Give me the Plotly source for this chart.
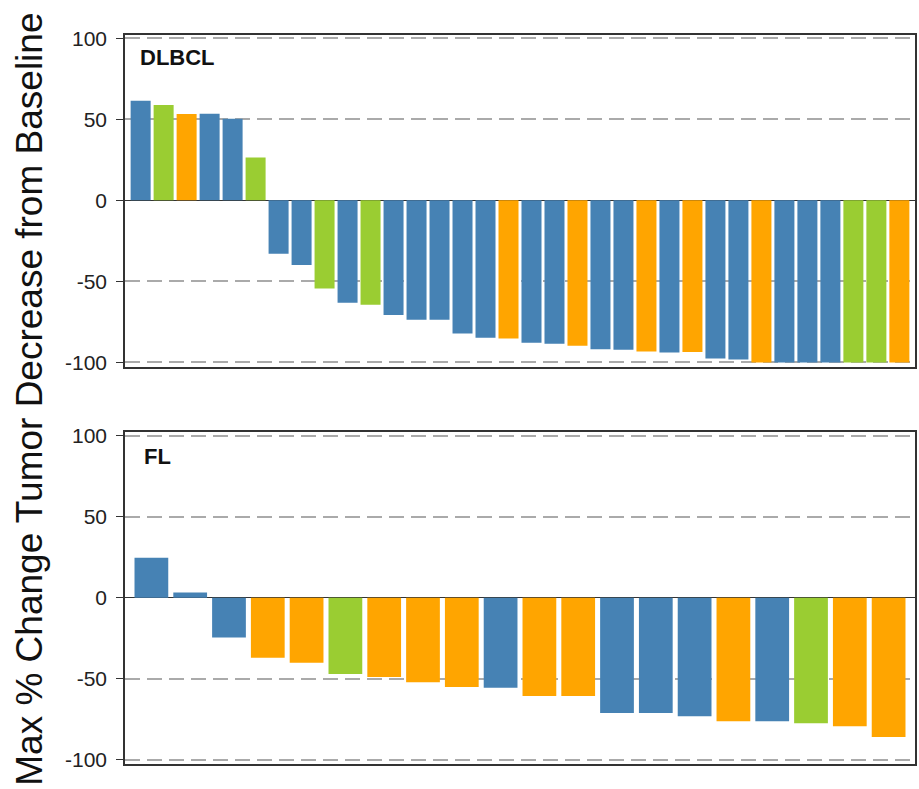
import plotly.graph_objects as go
from plotly.subplots import make_subplots

# ---- data ----
dlbcl_values = [61.5, 58.8, 53.3, 53.4, 50.4, 26.5,
                -32.9, -39.9, -54.3, -63.2, -64.4, -70.8, -73.7, -73.7, -82.1, -84.8,
                -85.2, -87.9, -88.5, -89.7, -91.8, -92.2, -93.2, -93.8, -93.6,
                -97.5, -98.1, -100, -100, -100, -100, -100, -100, -100]
dlbcl_groups = ["B", "G", "O", "B", "B", "G",
                "B", "B", "G", "B", "G", "B", "B", "B", "B", "B",
                "O", "B", "B", "O", "B", "B", "O", "B", "O",
                "B", "B", "O", "B", "B", "B", "G", "G", "O"]

fl_values = [24.8, 3.3, -24.4, -36.9, -40.0, -47.0, -48.8, -52.1, -55.0, -55.4,
             -60.5, -60.5, -71.0, -71.0, -73.0, -76.1, -76.1, -77.4, -79.2, -85.8]
fl_groups = ["B", "B", "B", "O", "O", "G", "O", "O", "O", "B",
             "O", "O", "B", "B", "B", "O", "B", "G", "O", "O"]

panel_labels = ["DLBCL", "FL"]
y_ticks = [-100, -50, 0, 50, 100]
y_tick_labels = ["-100", "-50", "0", "50", "100"]
y_title = "Max % Change Tumor Decrease from Baseline"

color_map = {"B": "#4682B4", "G": "#9ACD32", "O": "#FFA500"}

fig = make_subplots(rows=2, cols=1, vertical_spacing=0.0905)

for row, (vals, grps) in enumerate([(dlbcl_values, dlbcl_groups), (fl_values, fl_groups)], start=1):
    xs = list(range(len(vals)))
    fig.add_trace(go.Bar(
        x=xs, y=vals,
        marker=dict(color=[color_map[g] for g in grps], line=dict(width=0)),
        showlegend=False,
    ), row=row, col=1)
    fig.update_xaxes(range=[-0.68, len(vals) - 1 + 0.68], showticklabels=False, ticks="",
                     showgrid=False, zeroline=False, showline=True, mirror=True,
                     linecolor="#333333", linewidth=1.5, row=row, col=1)
    fig.update_yaxes(range=[-102.5, 102], tickvals=y_ticks, ticktext=y_tick_labels,
                     ticks="outside", ticklen=7,
                     tickcolor="#333333", tickwidth=1, ticklabelstandoff=5,
                     tickfont=dict(family="Liberation Sans, Arial", size=21, color="#222222"),
                     showgrid=True, gridcolor="#aaaaaa", gridwidth=1.5, griddash="15px,7px",
                     zeroline=True, zerolinecolor="#333333", zerolinewidth=1,
                     showline=True, mirror=True, linecolor="#333333", linewidth=1.5,
                     row=row, col=1)

fig.update_layout(
    width=919, height=789,
    margin=dict(l=125, r=2, t=35, b=25),
    paper_bgcolor="white", plot_bgcolor="white",
    bargap=0.13,
    font=dict(family="Liberation Sans, Arial", color="#111111"),
)

# panel labels
fig.add_annotation(x=0.017, y=0.933, xref="x domain", yref="y domain", text="<b>%s</b>" % panel_labels[0],
                   showarrow=False, xanchor="left", yanchor="middle",
                   font=dict(size=22, family="Liberation Sans, Arial", color="#111111"))
fig.add_annotation(x=0.022, y=0.927, xref="x2 domain", yref="y2 domain", text="<b>%s</b>" % panel_labels[1],
                   showarrow=False, xanchor="left", yanchor="middle",
                   font=dict(size=22, family="Liberation Sans, Arial", color="#111111"))

# y title
fig.add_annotation(x=-0.1212, y=0.5, xref="paper", yref="paper", text=y_title,
                   textangle=-90, showarrow=False, xanchor="center", yanchor="middle",
                   font=dict(size=37, family="Liberation Sans, Arial", color="#111111"))

fig.write_html("out.html")
